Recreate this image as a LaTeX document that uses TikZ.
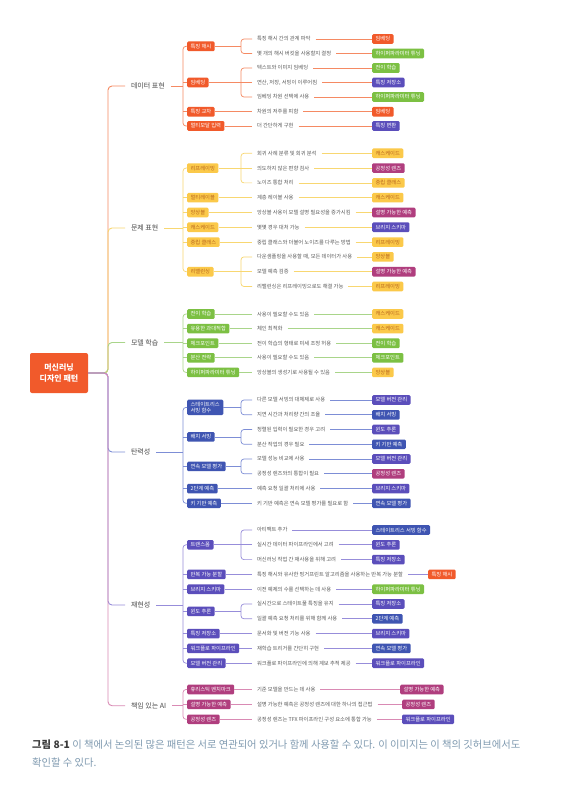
\documentclass[tikz,border=0pt]{standalone}
\usepackage{fontspec}
\setmainfont{Noto Sans CJK KR}
\usetikzlibrary{calc}
\definecolor{cOr}{HTML}{F15A2B}
\definecolor{lOrC}{HTML}{F58A63}
\definecolor{cYe}{HTML}{FBC94A}
\definecolor{cYeT}{HTML}{B8651E}
\definecolor{lYeC}{HTML}{F8D771}
\definecolor{cGr}{HTML}{7CC043}
\definecolor{lGrC}{HTML}{A9D58A}
\definecolor{cBl}{HTML}{3F55B2}
\definecolor{lBlC}{HTML}{7D8ED6}
\definecolor{cPu}{HTML}{5B4EBB}
\definecolor{lPuC}{HTML}{978DDA}
\definecolor{cMa}{HTML}{B03E7E}
\definecolor{lMaC}{HTML}{D98AB4}
\definecolor{txt}{HTML}{595959}
\definecolor{cattxt}{HTML}{4A4A4A}
\definecolor{capd}{HTML}{3A3A3A}
\definecolor{capl}{HTML}{7F9AB0}
\tikzset{
  box/.style={rectangle, rounded corners=1.2pt, inner xsep=3.4pt, inner ysep=0pt, minimum height=9.6pt, font=\fontsize{5.3}{6.4}\selectfont, text=white, anchor=west},
  bOr/.style={box, fill=cOr}, bYe/.style={box, fill=cYe, text=cYeT}, bGr/.style={box, fill=cGr},
  bBl/.style={box, fill=cBl}, bPu/.style={box, fill=cPu}, bMa/.style={box, fill=cMa},
  leaf/.style={inner xsep=2.5pt, outer xsep=2.5pt, inner ysep=1pt, font=\fontsize{5.3}{6.4}\selectfont, text=txt, anchor=west},
  cat/.style={inner xsep=3pt, outer xsep=3pt, font=\fontsize{7}{8}\selectfont, text=cattxt, anchor=west},
  lOr/.style={draw=lOrC, line width=0.7pt}, lYe/.style={draw=lYeC, line width=0.7pt},
  lGr/.style={draw=lGrC, line width=0.7pt}, lBl/.style={draw=lBlC, line width=0.7pt},
  lPu/.style={draw=lPuC, line width=0.7pt}, lMa/.style={draw=lMaC, line width=0.7pt},
  trunk/.style={line width=0.9pt, rounded corners=4pt},
}
\newcommand\mkbrk[4]{\draw[#1] (#2.east) -- (#2.east -| bx3); \draw[#1,rounded corners=3pt] (#3.west) -- (#3.west -| bx3) -- (#4.west -| bx3) -- (#4.west);}
\newcommand\mkmid[2]{\draw[#1] (#2.west) -- (#2.west -| bx3);}
\newcommand\mklnk[3]{\draw[#1] (#2.east) -- (#3.west);}
\newcommand\mkcat[4]{\draw[#1] (#2.east) -- (#2.east -| bx2); \draw[#1,rounded corners=3pt] (#3.west) -- (#3.west -| bx2) -- (#4.west -| bx2) -- (#4.west);}
\newcommand\mkcmid[2]{\draw[#1] (#2.west) -- (#2.west -| bx2);}
\begin{document}
\begin{tikzpicture}[x=1pt,y=-1pt]
\useasboundingbox (0,0) rectangle (563,786);
\fill[white] (0,0) rectangle (563,786);
\coordinate (bx1) at (108,0);
\coordinate (bx2) at (183,0);
\coordinate (bx3) at (241,0);

% root
\node[fill=cOr, rounded corners=2pt, minimum width=58pt, minimum height=40pt, text=white, align=center, font=\fontsize{8}{11}\selectfont\bfseries] (root) at (59,373) {머신러닝\\디자인 패턴};

% ---------------- data representation
\node[cat] (c1) at (125,86) {데이터 표현};
\node[bOr] (d1) at (187,46.3) {특징 해시};
\node[leaf] (d1a) at (252,39) {특징 해시 간의 관계 파악};
\node[bOr] (t1a) at (372,39) {임베딩};
\node[leaf] (d1b) at (252,53.5) {몇 개의 해시 버킷을 사용할지 결정};
\node[bGr] (t1b) at (372,53.5) {하이퍼파라미터 튜닝};
\node[bOr] (d2) at (187,82.5) {임베딩};
\node[leaf] (d2a) at (252,68) {텍스트와 이미지 임베딩};
\node[bGr] (t2a) at (372,68) {전이 학습};
\node[leaf] (d2b) at (252,82.5) {연산, 저장, 서빙이 이루어짐};
\node[bPu] (t2b) at (372,82.5) {특징 저장소};
\node[leaf] (d2c) at (252,97) {임베딩 차원 선택에 사용};
\node[bGr] (t2c) at (372,97) {하이퍼파라미터 튜닝};
\node[bOr] (d3) at (187,111.8) {특징 교차};
\node[leaf] (d3a) at (252,111.8) {차원의 저주를 피함};
\node[bOr] (t3a) at (372,111.8) {임베딩};
\node[bOr] (d4) at (187,126) {멀티모달 입력};
\node[leaf] (d4a) at (252,126) {더 간단하게 구현};
\node[bPu] (t4a) at (372,126) {특징 변환};

% ---------------- problem representation
\node[cat] (c2) at (125,228) {문제 표현};
\node[bYe] (p1) at (187,168.1) {리프레이밍};
\node[leaf] (p1a) at (252,153.3) {회귀 사례 분류 및 회귀 분석};
\node[bYe] (u1a) at (372,153.3) {캐스케이드};
\node[leaf] (p1b) at (252,168.1) {의도하지 않은 편향 검사};
\node[bMa] (u1b) at (372,168.1) {공정성 렌즈};
\node[leaf] (p1c) at (252,182.9) {노이즈 통합 처리};
\node[bYe] (u1c) at (372,182.9) {중립 클래스};
\node[bYe] (p2) at (187,197.7) {멀티레이블};
\node[leaf] (p2a) at (252,197.7) {계층 레이블 사용};
\node[bYe] (u2a) at (372,197.7) {캐스케이드};
\node[bYe] (p3) at (187,212.5) {앙상블};
\node[leaf] (p3a) at (252,212.5) {앙상블 사용이 모델 설명 필요성을 증가시킴};
\node[bMa] (u3a) at (372,212.5) {설명 가능한 예측};
\node[bYe] (p4) at (187,227.3) {캐스케이드};
\node[leaf] (p4a) at (252,227.3) {몇몇 경우 대처 가능};
\node[bPu] (u4a) at (372,227.3) {브리지 스키마};
\node[bYe] (p5) at (187,242.1) {중립 클래스};
\node[leaf] (p5a) at (252,242.1) {중립 클래스와 더불어 노이즈를 다루는 방법};
\node[bYe] (u5a) at (372,242.1) {리프레이밍};
\node[bYe] (p6) at (187,271.7) {리밸런싱};
\node[leaf] (p6a) at (252,256.9) {다운샘플링을 사용할 때, 모든 데이터가 사용};
\node[bYe] (u6a) at (372,256.9) {앙상블};
\node[leaf] (p6b) at (252,271.7) {모델 예측 검증};
\node[bMa] (u6b) at (372,271.7) {설명 가능한 예측};
\node[leaf] (p6c) at (252,286.5) {리밸런싱은 리프레이밍으로도 해결 가능};
\node[bYe] (u6c) at (372,286.5) {리프레이밍};

% ---------------- model training
\node[cat] (c3) at (125,342.5) {모델 학습};
\node[bGr] (m1) at (187,314) {전이 학습};
\node[leaf] (m1a) at (252,314) {사용이 필요할 수도 있음};
\node[bYe] (v1a) at (372,314) {캐스케이드};
\node[bGr] (m2) at (187,328.6) {유용한 과대적합};
\node[leaf] (m2a) at (252,328.6) {체인 최적화};
\node[bYe] (v2a) at (372,328.6) {캐스케이드};
\node[bGr] (m3) at (187,343.2) {체크포인트};
\node[leaf] (m3a) at (252,343.2) {전이 학습의 형태로 미세 조정 허용};
\node[bGr] (v3a) at (372,343.2) {전이 학습};
\node[bGr] (m4) at (187,357.8) {분산 전략};
\node[leaf] (m4a) at (252,357.8) {사용이 필요할 수도 있음};
\node[bGr] (v4a) at (372,357.8) {체크포인트};
\node[bGr] (m5) at (187,372.4) {하이퍼파라미터 튜닝};
\node[leaf] (m5a) at (252,372.4) {앙상블의 생성기로 사용될 수 있음};
\node[bYe] (v5a) at (372,372.4) {앙상블};

% ---------------- resilience
\node[cat] (c4) at (125,452) {탄력성};
\node[bBl, minimum height=15.5pt, align=left, font=\fontsize{5.3}{6.6}\selectfont] (r1) at (187,407.4) {스테이트리스\\서빙 함수};
\node[leaf] (r1a) at (252,400) {다른 모델 서빙의 대체제로 사용};
\node[bPu] (w1a) at (372,400) {모델 버전 관리};
\node[leaf] (r1b) at (252,414.8) {지연 시간과 처리량 간의 조율};
\node[bBl] (w1b) at (372,414.8) {배치 서빙};
\node[bBl] (r2) at (187,436.9) {배치 서빙};
\node[leaf] (r2a) at (252,429.5) {정렬된 입력이 필요한 경우 고려};
\node[bPu] (w2a) at (372,429.5) {윈도 추론};
\node[leaf] (r2b) at (252,444.3) {분산 작업의 경우 필요};
\node[bBl] (w2b) at (372,444.3) {키 기반 예측};
\node[bBl] (r3) at (187,466.4) {연속 모델 평가};
\node[leaf] (r3a) at (252,459) {모델 성능 비교에 사용};
\node[bPu] (w3a) at (372,459) {모델 버전 관리};
\node[leaf] (r3b) at (252,473.8) {공정성 렌즈와의 통합이 필요};
\node[bMa] (w3b) at (372,473.8) {공정성 렌즈};
\node[bBl] (r4) at (187,488.6) {2단계 예측};
\node[leaf] (r4a) at (252,488.6) {예측 요청 일괄 처리에 사용};
\node[bPu] (w4a) at (372,488.6) {브리지 스키마};
\node[bBl] (r5) at (187,503.3) {키 기반 예측};
\node[leaf] (r5a) at (252,503.3) {키 기반 예측은 연속 모델 평가를 필요로 함};
\node[bBl] (w5a) at (372,503.3) {연속 모델 평가};

% ---------------- reproducibility
\node[cat] (c5) at (125,605) {재현성};
\node[bPu] (s1) at (187,544.8) {트랜스폼};
\node[leaf] (s1a) at (252,530) {아티팩트 추가};
\node[bBl] (x1a) at (372,530) {스테이트리스 서빙 함수};
\node[leaf] (s1b) at (252,544.8) {실시간 데이터 파이프라인에서 고려};
\node[bPu] (x1b) at (372,544.8) {윈도 추론};
\node[leaf] (s1c) at (252,559.6) {머신러닝 작업 간 재사용을 위해 고려};
\node[bPu] (x1c) at (372,559.6) {특징 저장소};
\node[bPu] (s2) at (187,574.4) {반복 가능 분할};
\node[leaf] (s2a) at (252,574.4) {특징 해시와 유사한 핑거프린트 알고리즘을 사용하는 반복 가능 분할};
\node[bOr] (x2a) at (428,574.4) {특징 해시};
\node[bPu] (s3) at (187,589.2) {브리지 스키마};
\node[leaf] (s3a) at (252,589.2) {이전 예제의 수를 선택하는 데 사용};
\node[bGr] (x3a) at (372,589.2) {하이퍼파라미터 튜닝};
\node[bPu] (s4) at (187,611.4) {윈도 추론};
\node[leaf] (s4a) at (252,604) {실시간으로 스테이트풀 특징을 유지};
\node[bPu] (x4a) at (372,604) {특징 저장소};
\node[leaf] (s4b) at (252,618.8) {일괄 예측 요청 처리를 위해 함께 사용};
\node[bBl] (x4b) at (372,618.8) {2단계 예측};
\node[bPu] (s5) at (187,633.6) {특징 저장소};
\node[leaf] (s5a) at (252,633.6) {문서화 및 버전 기능 사용};
\node[bPu] (x5a) at (372,633.6) {브리지 스키마};
\node[bPu] (s6) at (187,648.4) {워크플로 파이프라인};
\node[leaf] (s6a) at (252,648.4) {재학습 트리거를 간단히 구현};
\node[bBl] (x6a) at (372,648.4) {연속 모델 평가};
\node[bPu] (s7) at (187,663.2) {모델 버전 관리};
\node[leaf] (s7a) at (252,663.2) {워크플로 파이프라인에 의해 계보 추적 제공};
\node[bPu] (x7a) at (372,663.2) {워크플로 파이프라인};

% ---------------- responsible AI
\node[cat] (c6) at (125,705.7) {책임 있는 AI};
\node[bMa] (a1) at (187,689.5) {휴리스틱 벤치마크};
\node[leaf] (a1a) at (252,689.5) {기준 모델을 만드는 데 사용};
\node[bMa] (y1a) at (400,689.5) {설명 가능한 예측};
\node[bMa] (a2) at (187,704.4) {설명 가능한 예측};
\node[leaf] (a2a) at (252,704.4) {설명 가능한 예측은 공정성 렌즈에 대한 하나의 접근법};
\node[bMa] (y2a) at (402,704.4) {공정성 렌즈};
\node[bMa] (a3) at (187,719.3) {공정성 렌즈};
\node[leaf] (a3a) at (252,719.3) {공정성 렌즈는 TFX 파이프라인 구성 요소에 통합 가능};
\node[bPu] (y3a) at (402,719.3) {워크플로 파이프라인};

% ---------------- trunk
\draw[trunk, draw=lOrC] (root.east) -- (root.east -| bx1) |- (c1.west);
\draw[trunk, draw=lYeC] (root.east) -- (root.east -| bx1) |- (c2.west);
\draw[trunk, draw=lGrC] (root.east) -- (root.east -| bx1) |- (c3.west);
\draw[trunk, draw=lBlC] (root.east) -- (root.east -| bx1) |- (c4.west);
\draw[trunk, draw=lPuC] (root.east) -- (root.east -| bx1) |- (c5.west);
\draw[trunk, draw=lMaC] (root.east) -- (root.east -| bx1) |- (c6.west);

% ---------------- category brackets
\mkcat{lOr}{c1}{d1}{d4} \mkcmid{lOr}{d2} \mkcmid{lOr}{d3}
\mkcat{lYe}{c2}{p1}{p6} \mkcmid{lYe}{p2} \mkcmid{lYe}{p3} \mkcmid{lYe}{p4} \mkcmid{lYe}{p5}
\mkcat{lGr}{c3}{m1}{m5} \mkcmid{lGr}{m2} \mkcmid{lGr}{m3} \mkcmid{lGr}{m4}
\mkcat{lBl}{c4}{r1}{r5} \mkcmid{lBl}{r2} \mkcmid{lBl}{r3} \mkcmid{lBl}{r4}
\mkcat{lPu}{c5}{s1}{s7} \mkcmid{lPu}{s2} \mkcmid{lPu}{s3} \mkcmid{lPu}{s4} \mkcmid{lPu}{s5} \mkcmid{lPu}{s6}
\mkcat{lMa}{c6}{a1}{a3} \mkcmid{lMa}{a2}

% ---------------- leaf brackets / links
\mkbrk{lOr}{d1}{d1a}{d1b}
\mkbrk{lOr}{d2}{d2a}{d2c} \mkmid{lOr}{d2b}
\mklnk{lOr}{d3}{d3a} \mklnk{lOr}{d4}{d4a}
\mklnk{lOr}{d1a}{t1a} \mklnk{lOr}{d1b}{t1b} \mklnk{lOr}{d2a}{t2a} \mklnk{lOr}{d2b}{t2b}
\mklnk{lOr}{d2c}{t2c} \mklnk{lOr}{d3a}{t3a} \mklnk{lOr}{d4a}{t4a}

\mkbrk{lYe}{p1}{p1a}{p1c} \mkmid{lYe}{p1b}
\mklnk{lYe}{p2}{p2a} \mklnk{lYe}{p3}{p3a} \mklnk{lYe}{p4}{p4a} \mklnk{lYe}{p5}{p5a}
\mkbrk{lYe}{p6}{p6a}{p6c} \mkmid{lYe}{p6b}
\mklnk{lYe}{p1a}{u1a} \mklnk{lYe}{p1b}{u1b} \mklnk{lYe}{p1c}{u1c} \mklnk{lYe}{p2a}{u2a}
\mklnk{lYe}{p3a}{u3a} \mklnk{lYe}{p4a}{u4a} \mklnk{lYe}{p5a}{u5a}
\mklnk{lYe}{p6a}{u6a} \mklnk{lYe}{p6b}{u6b} \mklnk{lYe}{p6c}{u6c}

\mklnk{lGr}{m1}{m1a} \mklnk{lGr}{m2}{m2a} \mklnk{lGr}{m3}{m3a} \mklnk{lGr}{m4}{m4a} \mklnk{lGr}{m5}{m5a}
\mklnk{lGr}{m1a}{v1a} \mklnk{lGr}{m2a}{v2a} \mklnk{lGr}{m3a}{v3a} \mklnk{lGr}{m4a}{v4a} \mklnk{lGr}{m5a}{v5a}

\mkbrk{lBl}{r1}{r1a}{r1b} \mkbrk{lBl}{r2}{r2a}{r2b} \mkbrk{lBl}{r3}{r3a}{r3b}
\mklnk{lBl}{r4}{r4a} \mklnk{lBl}{r5}{r5a}
\mklnk{lBl}{r1a}{w1a} \mklnk{lBl}{r1b}{w1b} \mklnk{lBl}{r2a}{w2a} \mklnk{lBl}{r2b}{w2b}
\mklnk{lBl}{r3a}{w3a} \mklnk{lBl}{r3b}{w3b} \mklnk{lBl}{r4a}{w4a} \mklnk{lBl}{r5a}{w5a}

\mkbrk{lPu}{s1}{s1a}{s1c} \mkmid{lPu}{s1b}
\mklnk{lPu}{s2}{s2a} \mklnk{lPu}{s3}{s3a}
\mkbrk{lPu}{s4}{s4a}{s4b}
\mklnk{lPu}{s5}{s5a} \mklnk{lPu}{s6}{s6a} \mklnk{lPu}{s7}{s7a}
\mklnk{lPu}{s1a}{x1a} \mklnk{lPu}{s1b}{x1b} \mklnk{lPu}{s1c}{x1c} \mklnk{lPu}{s2a}{x2a}
\mklnk{lPu}{s3a}{x3a} \mklnk{lPu}{s4a}{x4a} \mklnk{lPu}{s4b}{x4b} \mklnk{lPu}{s5a}{x5a}
\mklnk{lPu}{s6a}{x6a} \mklnk{lPu}{s7a}{x7a}

\mklnk{lMa}{a1}{a1a} \mklnk{lMa}{a2}{a2a} \mklnk{lMa}{a3}{a3a}
\mklnk{lMa}{a1a}{y1a} \mklnk{lMa}{a2a}{y2a} \mklnk{lMa}{a3a}{y3a}

% ---------------- caption
\node[anchor=west, inner sep=0pt, font=\fontsize{10.3}{12}\selectfont] (cap1) at (32,745)
  {\textcolor{capd}{\bfseries 그림 8-1}\ \textcolor{capl}{이 책에서 논의된 많은 패턴은 서로 연관되어 있거나 함께 사용할 수 있다. 이 이미지는 이 책의 깃허브에서도}};
\node[anchor=west, inner sep=0pt, font=\fontsize{10.3}{12}\selectfont, text=capl] (cap2) at (32,763) {확인할 수 있다.};
\end{tikzpicture}
\end{document}
